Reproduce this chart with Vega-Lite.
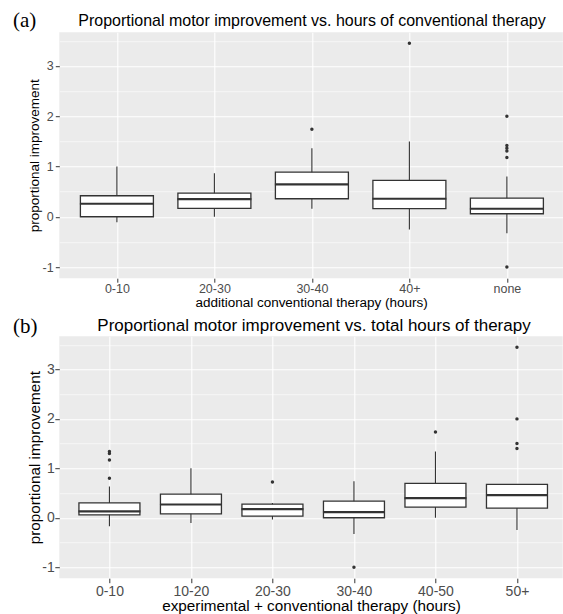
{
  "$schema": "https://vega.github.io/schema/vega-lite/v6.json",
  "background": "white",
  "padding": {"left": 12.3, "top": 9.2, "right": 0, "bottom": 0},
  "spacing": 6,
  "config": {
    "view": {"fill": "#EBEBEB", "stroke": null},
    "axis": {"domain": false, "labelFont": "Liberation Sans", "titleFont": "Liberation Sans", "titleFontWeight": "normal", "titleColor": "black", "labelColor": "#4D4D4D", "tickColor": "#333333", "tickWidth": 1, "gridColor": "white"}
  },
  "datasets": {
    "boxA": [
      {"cat": "0-10", "lo": -0.107, "q1": 0.0, "med": 0.259, "q3": 0.418, "hi": 1.0},
      {"cat": "20-30", "lo": 0.0, "q1": 0.165, "med": 0.35, "q3": 0.47, "hi": 0.868},
      {"cat": "30-40", "lo": 0.159, "q1": 0.358, "med": 0.643, "q3": 0.887, "hi": 1.365},
      {"cat": "40+", "lo": -0.253, "q1": 0.162, "med": 0.358, "q3": 0.722, "hi": 1.498},
      {"cat": "none", "lo": -0.326, "q1": 0.06, "med": 0.159, "q3": 0.37, "hi": 0.8}
    ],
    "outA": [
      {"cat": "30-40", "value": 1.743},
      {"cat": "40+", "value": 3.454},
      {"cat": "none", "value": 2.0},
      {"cat": "none", "value": 1.417},
      {"cat": "none", "value": 1.364},
      {"cat": "none", "value": 1.31},
      {"cat": "none", "value": 1.18},
      {"cat": "none", "value": -1.0}
    ],
    "boxB": [
      {"cat": "0-10", "lo": -0.174, "q1": 0.06, "med": 0.127, "q3": 0.3, "hi": 0.63},
      {"cat": "10-20", "lo": -0.107, "q1": 0.08, "med": 0.268, "q3": 0.476, "hi": 1.0},
      {"cat": "20-30", "lo": -0.034, "q1": 0.034, "med": 0.174, "q3": 0.275, "hi": 0.3},
      {"cat": "30-40", "lo": -0.328, "q1": 0.0, "med": 0.114, "q3": 0.335, "hi": 0.737},
      {"cat": "40-50", "lo": 0.0, "q1": 0.215, "med": 0.396, "q3": 0.697, "hi": 1.34},
      {"cat": "50+", "lo": -0.247, "q1": 0.195, "med": 0.456, "q3": 0.677, "hi": 0.68}
    ],
    "outB": [
      {"cat": "0-10", "value": 1.34},
      {"cat": "0-10", "value": 1.3},
      {"cat": "0-10", "value": 1.17},
      {"cat": "0-10", "value": 0.8},
      {"cat": "20-30", "value": 0.724},
      {"cat": "30-40", "value": -1.0},
      {"cat": "40-50", "value": 1.735},
      {"cat": "50+", "value": 3.45},
      {"cat": "50+", "value": 2.0},
      {"cat": "50+", "value": 1.5},
      {"cat": "50+", "value": 1.4}
    ]
  },
  "vconcat": [
    {
      "width": 503.6,
      "height": 246,
      "resolve": {"axis": {"x": "independent", "y": "independent"}},
      "layer": [
        {
          "data": {"name": "boxA"},
          "mark": {"type": "rule", "color": "#333333", "strokeWidth": 1.1},
          "encoding": {
            "x": {"field": "cat", "type": "nominal", "sort": null, "scale": {"type": "point", "domain": ["0-10", "20-30", "30-40", "40+", "none"], "padding": 0.5826, "align": 0.507}, "axis": {"title": "additional conventional therapy (hours)", "titleFontSize": 13.5, "labelFontSize": 12.5, "labelAngle": 0, "tickSize": 4, "labelPadding": 0, "titlePadding": 1, "grid": true, "gridWidth": 1.1}},
            "y": {"field": "lo", "type": "quantitative", "scale": {"domain": [-1.2225, 3.6725], "nice": false, "zero": false}, "axis": {"title": "proportional improvement", "titleFontSize": 13.5, "labelFontSize": 12.5, "values": [-1, 0, 1, 2, 3], "labelExpr": "replace(datum.label, '−', '-')", "tickSize": 4, "labelPadding": 2.1, "titlePadding": 1, "grid": true, "gridWidth": 1.1}},
            "y2": {"field": "hi"}
          }
        },
        {
          "data": {"name": "boxA"},
          "mark": {"type": "bar", "width": 73, "fill": "white", "stroke": "#333333", "strokeWidth": 1.3},
          "encoding": {
            "x": {"field": "cat", "type": "nominal", "sort": null, "axis": {"orient": "top", "title": "Proportional motor improvement vs. hours of conventional therapy", "titleFontSize": 16, "titleAlign": "center", "titleBaseline": "alphabetic", "titleX": 252.2, "titleY": -6.7, "labels": false, "ticks": false, "grid": false, "domain": false}},
            "y": {"field": "q1", "type": "quantitative", "axis": null},
            "y2": {"field": "q3"}
          }
        },
        {
          "data": {"name": "boxA"},
          "mark": {"type": "tick", "size": 74, "thickness": 2.2, "color": "#333333", "opacity": 1},
          "encoding": {
            "x": {"field": "cat", "type": "nominal", "sort": null, "axis": null},
            "y": {"field": "med", "type": "quantitative", "axis": null}
          }
        },
        {
          "data": {"name": "outA"},
          "mark": {"type": "circle", "size": 12, "color": "#333333", "opacity": 1},
          "encoding": {
            "x": {"field": "cat", "type": "nominal", "sort": null, "axis": null},
            "y": {"field": "value", "type": "quantitative", "axis": {"orient": "right", "values": [-0.5, 0.5, 1.5, 2.5, 3.5], "grid": true, "gridWidth": 0.55, "labels": false, "ticks": false, "domain": false, "title": "(a)", "titleFont": "Liberation Serif", "titleFontSize": 21, "titleAngle": 0, "titleAlign": "left", "titleBaseline": "alphabetic", "titleX": -550.4, "titleY": -5.7}}
          }
        }
      ]
    },
    {
      "width": 503.4,
      "height": 242,
      "resolve": {"axis": {"x": "independent", "y": "independent"}},
      "layer": [
        {
          "data": {"name": "boxB"},
          "mark": {"type": "rule", "color": "#333333", "strokeWidth": 1.1},
          "encoding": {
            "x": {"field": "cat", "type": "nominal", "sort": null, "scale": {"type": "point", "domain": ["0-10", "10-20", "20-30", "30-40", "40-50", "50+"], "padding": 0.588, "align": 0.523}, "axis": {"title": "experimental + conventional therapy (hours)", "titleFontSize": 15.3, "labelFontSize": 14, "labelAngle": 0, "tickSize": 4.5, "labelPadding": 1.5, "titlePadding": 0, "grid": true, "gridWidth": 1.1}},
            "y": {"field": "lo", "type": "quantitative", "scale": {"domain": [-1.2225, 3.6725], "nice": false, "zero": false}, "axis": {"title": "proportional improvement", "titleFontSize": 15.3, "labelFontSize": 14, "values": [-1, 0, 1, 2, 3], "labelExpr": "replace(datum.label, '−', '-')", "tickSize": 4.5, "labelPadding": 0.6, "titlePadding": -0.8, "grid": true, "gridWidth": 1.1}},
            "y2": {"field": "hi"}
          }
        },
        {
          "data": {"name": "boxB"},
          "mark": {"type": "bar", "width": 61, "fill": "white", "stroke": "#333333", "strokeWidth": 1.3},
          "encoding": {
            "x": {"field": "cat", "type": "nominal", "sort": null, "axis": {"orient": "top", "title": "Proportional motor improvement vs. total hours of therapy", "titleFontSize": 17, "titleAlign": "center", "titleBaseline": "alphabetic", "titleX": 254.2, "titleY": -5.6, "labels": false, "ticks": false, "grid": false, "domain": false}},
            "y": {"field": "q1", "type": "quantitative", "axis": null},
            "y2": {"field": "q3"}
          }
        },
        {
          "data": {"name": "boxB"},
          "mark": {"type": "tick", "size": 62, "thickness": 2.2, "color": "#333333", "opacity": 1},
          "encoding": {
            "x": {"field": "cat", "type": "nominal", "sort": null, "axis": null},
            "y": {"field": "med", "type": "quantitative", "axis": null}
          }
        },
        {
          "data": {"name": "outB"},
          "mark": {"type": "circle", "size": 12, "color": "#333333", "opacity": 1},
          "encoding": {
            "x": {"field": "cat", "type": "nominal", "sort": null, "axis": null},
            "y": {"field": "value", "type": "quantitative", "axis": {"orient": "right", "values": [-0.5, 0.5, 1.5, 2.5, 3.5], "grid": true, "gridWidth": 0.55, "labels": false, "ticks": false, "domain": false, "title": "(b)", "titleFont": "Liberation Serif", "titleFontSize": 21, "titleAngle": 0, "titleAlign": "left", "titleBaseline": "alphabetic", "titleX": -550.2, "titleY": -3.8}}
          }
        }
      ]
    }
  ]
}
